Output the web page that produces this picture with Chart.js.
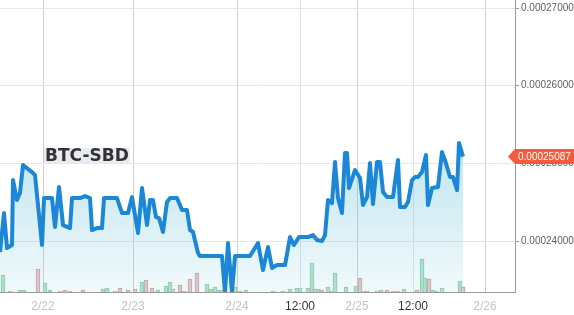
<!DOCTYPE html>
<html>
<head>
<meta charset="utf-8">
<script src="https://cdn.jsdelivr.net/npm/chart.js@4"></script>
<style>
  html, body { margin: 0; padding: 0; background: #fff; }
  #wrap { width: 574px; height: 315px; position: relative; }
</style>
</head>
<body>
<div id="wrap"><canvas id="chart"></canvas></div>
<script>
// Data (ordinal time slots)
const pair = "BTC-SBD";
const lastPrice = 0.00025087;

const priceSlots = [
  0, 4, 7, 12, 13, 17, 20, 23, 32, 35, 42, 44, 52, 55, 59, 63, 70, 72, 80, 85,
  90, 92, 97, 102, 104, 117, 122, 128, 132, 138, 142, 147, 150, 153, 156, 159,
  163, 167, 170, 177, 182, 187, 190, 193, 198, 200, 222, 225, 228, 232, 235,
  250, 258, 263, 268, 272, 277, 285, 290, 294, 299, 308, 313, 317, 322, 325,
  328, 332, 335, 338, 342, 345, 347, 349, 355, 360, 363, 367, 370, 373, 377,
  380, 383, 387, 393, 398, 400, 405, 408, 412, 415, 418, 422, 426, 428, 432,
  438, 442, 445, 450, 453, 457, 459, 463,
];
const prices = [
  0.00023858, 0.0002436, 0.0002391, 0.00023949, 0.00024785, 0.00024528,
  0.00024618, 0.00024978, 0.00024888, 0.00024849, 0.00023949, 0.00024553,
  0.00024553, 0.0002418, 0.00024695, 0.00024206, 0.00024167, 0.00024553,
  0.00024553, 0.00024579, 0.00024553, 0.00024142, 0.00024167, 0.00024167,
  0.00024553, 0.00024553, 0.0002436, 0.0002436, 0.00024566, 0.00024103,
  0.00024682, 0.00024206, 0.00024528, 0.00024528, 0.00024309, 0.00024296,
  0.00024116, 0.00024502, 0.00024553, 0.00024553, 0.00024399, 0.00024399,
  0.00024142, 0.00024116, 0.00023846, 0.00023807, 0.00023807, 0.00023344,
  0.00023974, 0.00023344, 0.00023807, 0.00023807, 0.00023974, 0.00023627,
  0.00023923, 0.00023653, 0.00023691, 0.00023691, 0.00024051, 0.00023949,
  0.00024051, 0.00024051, 0.00024077, 0.00024013, 0.00024, 0.00024077,
  0.00024528, 0.00024489, 0.00025017, 0.00024553, 0.0002436, 0.00025133,
  0.00025133, 0.00024682, 0.00024914, 0.00024811, 0.00024463, 0.00024566,
  0.00025004, 0.00024476, 0.00025017, 0.00025017, 0.00024631, 0.00024566,
  0.00024566, 0.00025042, 0.00024438, 0.00024438, 0.00024502, 0.00024785,
  0.00024824, 0.00024824, 0.00024888, 0.00025107, 0.00024463, 0.00024682,
  0.00024695, 0.00025145, 0.00025042, 0.00024824, 0.00024824, 0.00024656,
  0.00025261, 0.00025087,
];

const volSlots = [
  3, 10, 20, 24, 38, 45, 50, 60, 65, 70, 83, 103, 107, 115, 120, 128, 135, 142,
  146, 152, 158, 166, 170, 173, 180, 184, 190, 197, 207, 211, 215, 218, 222,
  235, 240, 246, 273, 283, 290, 297, 300, 308, 312, 315, 318, 322, 328, 332,
  335, 346, 356, 360, 363, 367, 377, 381, 387, 393, 398, 404, 417, 422, 425,
  429, 433, 436, 442, 460, 463,
];
const volumes = [
  17, 1, 2, 2, 23, 9, 2, 1, 2, 1, 2, 3, 4, 1, 4, 2, 3, 10, 12, 4, 2, 6, 10, 3,
  7, 1, 13, 19, 8, 3, 5, 2, 2, 5, 1, 2, 1, 1, 3, 4, 4, 4, 29, 3, 3, 2, 5, 1, 19,
  5, 6, 14, 1, 1, 1, 2, 2, 1, 1, 3, 2, 33, 14, 13, 2, 1, 4, 11, 5,
];
const volDir = [
  "u", "d", "u", "u", "d", "u", "u", "u", "d", "d", "d", "u", "u", "u", "d", "d",
  "d", "u", "d", "d", "u", "u", "u", "u", "d", "d", "d", "d", "u", "u", "u", "u",
  "u", "u", "d", "u", "d", "d", "u", "u", "u", "u", "u", "d", "u", "d", "u", "d",
  "u", "u", "u", "d", "d", "d", "d", "u", "d", "d", "d", "u", "d", "u", "u", "d",
  "u", "d", "u", "u", "d",
];

const xTickSlots = [43, 133, 237, 300, 357, 413, 485];
const xTickLabels = ["2/22", "2/23", "2/24", "12:00", "2/25", "12:00", "2/26"];
const yTicks = [0.00024, 0.00025, 0.00026, 0.00027];

const FONT = "'Liberation Sans', Arial, sans-serif";

// Overlay: pair title + last price flag
const overlay = {
  id: "overlay",
  afterDraw(chart) {
    const c = chart.ctx;
    const area = chart.chartArea;
    const y = chart.scales.y.getPixelForValue(lastPrice);

    c.save();
    // title
    c.font = "bold 17px 'DejaVu Sans', sans-serif";
    const tw = c.measureText(pair).width;
    c.fillStyle = "rgba(228,231,240,0.85)";
    c.fillRect(44, 148, tw + 2, 16);
    c.fillStyle = "#333";
    c.textBaseline = "middle";
    c.fillText(pair, 45, 156.5);

    // price flag
    const x0 = area.right - 7;
    c.fillStyle = "#f45b3c";
    c.beginPath();
    c.moveTo(x0, y);
    c.lineTo(x0 + 7, y - 7.5);
    c.lineTo(chart.width, y - 7.5);
    c.lineTo(chart.width, y + 7.5);
    c.lineTo(x0 + 7, y + 7.5);
    c.closePath();
    c.fill();
    c.fillStyle = "#fff";
    c.font = "10px " + FONT;
    c.fillText(lastPrice.toFixed(8), x0 + 10, y + 0.5);
    c.restore();
  },
};

const chart = new Chart(document.getElementById("chart"), {
  data: {
    datasets: [
      {
        type: "line",
        data: priceSlots.map((t, i) => ({ x: t, y: prices[i] })),
        yAxisID: "y",
        borderColor: "#1b87d6",
        borderWidth: 4,
        borderJoinStyle: "round",
        tension: 0,
        pointRadius: 0,
        fill: "start",
        backgroundColor: (ctx) => {
          const { chartArea, ctx: c } = ctx.chart;
          if (!chartArea) return "rgba(120,200,220,0.3)";
          const g = c.createLinearGradient(0, 140, 0, chartArea.bottom);
          g.addColorStop(0, "rgba(120,200,220,0.48)");
          g.addColorStop(1, "rgba(120,200,220,0.1)");
          return g;
        },
        order: 0,
      },
      {
        type: "bar",
        data: volSlots.map((t, i) => ({ x: t, y: volumes[i] })),
        yAxisID: "yVol",
        barThickness: 4,
        borderWidth: 1,
        backgroundColor: volDir.map((d) => (d === "u" ? "#b4e3ca" : "#eac6c6")),
        borderColor: volDir.map((d) => (d === "u" ? "#8ccca9" : "#c99e9e")),
        order: 1,
      },
    ],
  },
  options: {
    responsive: true,
    maintainAspectRatio: false,
    animation: false,
    layout: { padding: 0 },
    plugins: { legend: { display: false }, tooltip: { enabled: false } },
    scales: {
      x: {
        type: "linear",
        offset: false,
        min: 0,
        max: 515,
        afterBuildTicks: (s) => { s.ticks = xTickSlots.map((v) => ({ value: v })); },
        afterFit: (s) => {
          s.height = 23;
          s.paddingLeft = 0;
          s.paddingRight = 0;
        },
        grid: {
          offset: false,
          color: (ctx) => (ctx.tick && xTickLabels[ctx.index] === "12:00" ? "#dfe1ea" : "#cfcfcf"),
          drawTicks: false,
        },
        border: { color: "#9a9a9a" },
        ticks: {
          padding: 7,
          autoSkip: false,
          maxRotation: 0,
          font: { family: FONT, size: 12 },
          color: (ctx) => (xTickLabels[ctx.index] === "12:00" ? "#333" : "#c4c4c4"),
          callback: (v, i) => xTickLabels[i],
        },
      },
      y: {
        position: "right",
        min: 0.00023344,
        max: 0.00027103,
        afterBuildTicks: (s) => { s.ticks = yTicks.map((v) => ({ value: v })); },
        afterFit: (s) => {
          s.width = 59;
          s.paddingTop = 0;
          s.paddingBottom = 0;
        },
        grid: { color: "#e6e6ee", tickLength: 4, tickColor: "#999" },
        border: { color: "#999" },
        ticks: {
          padding: 2,
          font: { family: FONT, size: 10 },
          color: "#606060",
          callback: (v) => Number(v).toFixed(8),
        },
      },
      yVol: {
        display: false,
        min: 0,
        max: 292,
      },
    },
  },
  plugins: [overlay],
});
</script>
</body>
</html>
